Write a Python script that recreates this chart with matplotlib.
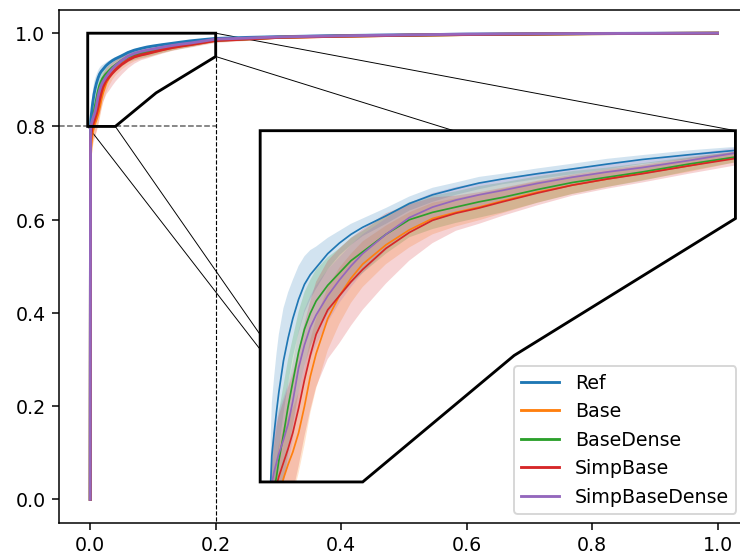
import numpy as np
import matplotlib.pyplot as plt
from matplotlib.patches import Polygon, ConnectionPatch

# false positive rate grid shared by all runs
fpr = [0, 0.0005, 0.001, 0.002, 0.003, 0.004, 0.006, 0.008, 0.01, 0.0125, 0.015,
       0.0175, 0.02, 0.025, 0.03, 0.035, 0.04, 0.05, 0.06, 0.07, 0.08, 0.09, 0.1,
       0.115, 0.13, 0.145, 0.16, 0.18, 0.2, 0.25, 0.3, 0.4, 0.5, 0.6, 0.7, 0.8, 0.9, 1.0]

names = ['Ref', 'Base', 'BaseDense', 'SimpBase', 'SimpBaseDense']

# mean tpr per model
tpr_ref = [0.0, 0.80, 0.815, 0.828, 0.84, 0.851, 0.869, 0.882, 0.893, 0.904, 0.9125,
           0.918, 0.922, 0.930, 0.936, 0.941, 0.945, 0.9515, 0.9585, 0.9635, 0.967, 0.9702,
           0.9725, 0.9755, 0.9782, 0.981, 0.9836, 0.9863, 0.9888, 0.991, 0.9925, 0.995,
           0.9965, 0.998, 0.9988, 0.9995, 0.9998, 1.0]
tpr_base = [0.0, 0.74, 0.755, 0.772, 0.783, 0.791, 0.802, 0.81, 0.817, 0.828, 0.843,
            0.86, 0.873, 0.893, 0.906, 0.916, 0.924, 0.935, 0.9435, 0.95, 0.9535, 0.9565,
            0.96, 0.965, 0.969, 0.9725, 0.9758, 0.98, 0.985, 0.988, 0.991, 0.9935,
            0.9955, 0.997, 0.998, 0.999, 0.9995, 1.0]
tpr_basedense = [0.0, 0.78, 0.787, 0.796, 0.803, 0.812, 0.827, 0.843, 0.857, 0.874, 0.887,
                 0.896, 0.903, 0.912, 0.919, 0.926, 0.931, 0.941, 0.9493, 0.9535, 0.9565, 0.9595,
                 0.962, 0.9665, 0.9705, 0.9735, 0.9765, 0.981, 0.985, 0.988, 0.9915, 0.994,
                 0.9955, 0.9972, 0.998, 0.999, 0.9995, 1.0]
tpr_simpbase = [0.0, 0.77, 0.778, 0.79, 0.798, 0.803, 0.811, 0.819, 0.828, 0.842, 0.858,
                0.872, 0.884, 0.898, 0.906, 0.914, 0.921, 0.933, 0.942, 0.949, 0.953, 0.956,
                0.9595, 0.9645, 0.969, 0.9725, 0.9755, 0.98, 0.9842, 0.9875, 0.991, 0.9935,
                0.9955, 0.9972, 0.998, 0.999, 0.9995, 1.0]
tpr_simpbasedense = [0.0, 0.795, 0.799, 0.806, 0.811, 0.816, 0.824, 0.833, 0.846, 0.865, 0.878,
                     0.888, 0.895, 0.906, 0.915, 0.923, 0.93, 0.941, 0.9505, 0.9565, 0.9605, 0.9635,
                     0.966, 0.97, 0.9735, 0.9765, 0.979, 0.983, 0.9873, 0.9895, 0.992, 0.9945,
                     0.9963, 0.998, 0.9988, 0.9993, 0.9997, 1.0]

# std of tpr across folds
std_ref = [0, 0.025, 0.03, 0.032, 0.033, 0.033, 0.03, 0.026, 0.022, 0.019, 0.016,
           0.014, 0.012, 0.009, 0.007, 0.006, 0.005, 0.0045, 0.004, 0.004, 0.0035, 0.0035,
           0.003, 0.003, 0.003, 0.003, 0.0025, 0.0025, 0.002, 0.002, 0.0015, 0.001,
           0.001, 0.001, 0.0008, 0.0005, 0.0003, 0]
std_base = [0, 0.025, 0.028, 0.03, 0.03, 0.03, 0.029, 0.027, 0.025, 0.023, 0.022,
            0.021, 0.02, 0.018, 0.016, 0.014, 0.013, 0.011, 0.01, 0.009, 0.008, 0.0075,
            0.007, 0.006, 0.005, 0.0045, 0.004, 0.0035, 0.003, 0.0025, 0.002, 0.0015,
            0.001, 0.001, 0.0008, 0.0005, 0.0003, 0]
std_basedense = [0, 0.02, 0.022, 0.025, 0.027, 0.028, 0.028, 0.027, 0.025, 0.023, 0.021,
                 0.019, 0.018, 0.016, 0.014, 0.013, 0.012, 0.011, 0.01, 0.0095, 0.009, 0.009,
                 0.0085, 0.0075, 0.0065, 0.0055, 0.005, 0.004, 0.003, 0.0025, 0.002, 0.0015,
                 0.001, 0.001, 0.0008, 0.0005, 0.0003, 0]
std_simpbase = [0, 0.03, 0.033, 0.035, 0.035, 0.035, 0.035, 0.035, 0.034, 0.033, 0.032,
                0.031, 0.03, 0.028, 0.027, 0.025, 0.023, 0.02, 0.016, 0.013, 0.01, 0.009,
                0.008, 0.007, 0.006, 0.0055, 0.005, 0.0045, 0.004, 0.003, 0.002, 0.0015,
                0.001, 0.001, 0.0008, 0.0005, 0.0003, 0]
std_simpbasedense = [0, 0.02, 0.022, 0.024, 0.025, 0.025, 0.024, 0.023, 0.022, 0.021, 0.02,
                     0.018, 0.017, 0.015, 0.013, 0.012, 0.011, 0.009, 0.0085, 0.008, 0.0075, 0.007,
                     0.0065, 0.006, 0.005, 0.0045, 0.004, 0.0035, 0.003, 0.0025, 0.002, 0.0015,
                     0.001, 0.001, 0.0008, 0.0005, 0.0003, 0]

means = [tpr_ref, tpr_base, tpr_basedense, tpr_simpbase, tpr_simpbasedense]
stds = [std_ref, std_base, std_basedense, std_simpbase, std_simpbasedense]

dpi = 137
fig = plt.figure(figsize=(740.4 / dpi, 556.4 / dpi), dpi=dpi)
ax = fig.add_axes([0.0795, 0.0599, 0.932, 0.9216])

handles = []
for name, m, s in zip(names, means, stds):
    m, s = np.array(m), np.array(s)
    line, = ax.plot(fpr, m, label=name)
    ax.fill_between(fpr, m - s, np.minimum(m + s, 1), color=line.get_color(), alpha=0.2, lw=0)
    handles.append(line)

ax.set_xlim(-0.05, 1.05)
ax.set_ylim(-0.05, 1.05)

# zoomed region
x0 = -0.004
zone = [(x0, 0.8), (x0, 1.0), (0.2, 1.0), (0.2, 0.95), (0.105, 0.872), (0.04, 0.8)]
ax.add_patch(Polygon(zone, closed=True, fill=False, ec='k', lw=1.5, zorder=5))
ax.plot([-0.05, 0.2], [0.8, 0.8], ls='--', color='0.4', lw=0.8)
ax.plot([0.2, 0.2], [0.95, -0.05], ls='--', color='k', lw=0.6)

axins = fig.add_axes([0.3514, 0.1331, 0.6419, 0.6313])
axins.set_xlim(x0, 0.2)
axins.set_ylim(0.8, 1.0)
axins.axis('off')

bg = Polygon(zone, closed=True, fc='white', ec='none', zorder=0)
axins.add_patch(bg)
for m, s, h in zip(means, stds, handles):
    m, s = np.array(m), np.array(s)
    fb = axins.fill_between(fpr, m - s, np.minimum(m + s, 1), color=h.get_color(), alpha=0.2, lw=0)
    fb.set_clip_path(bg)
    l, = axins.plot(fpr, m, color=h.get_color(), lw=0.9)
    l.set_clip_path(bg)
axins.add_patch(Polygon(zone, closed=True, fill=False, ec='k', lw=1.5, clip_on=False, zorder=5))

links = [((0.2, 1.0), (0.2, 1.0)), ((0.2, 0.95), (0.2, 0.95)),
         ((x0, 0.8), (0.04, 0.8)), ((0.04, 0.8), (0.04, 0.8))]
for a, b in links:
    con = ConnectionPatch(xyA=a, coordsA=ax.transData, xyB=b, coordsB=axins.transData,
                          color='k', lw=0.5)
    ax.add_artist(con)

axins.legend(handles, names, loc='lower right', bbox_to_anchor=(0.9946, 0.0755),
             bbox_transform=fig.transFigure, borderaxespad=0)

fig.savefig('out.png', dpi=dpi)
